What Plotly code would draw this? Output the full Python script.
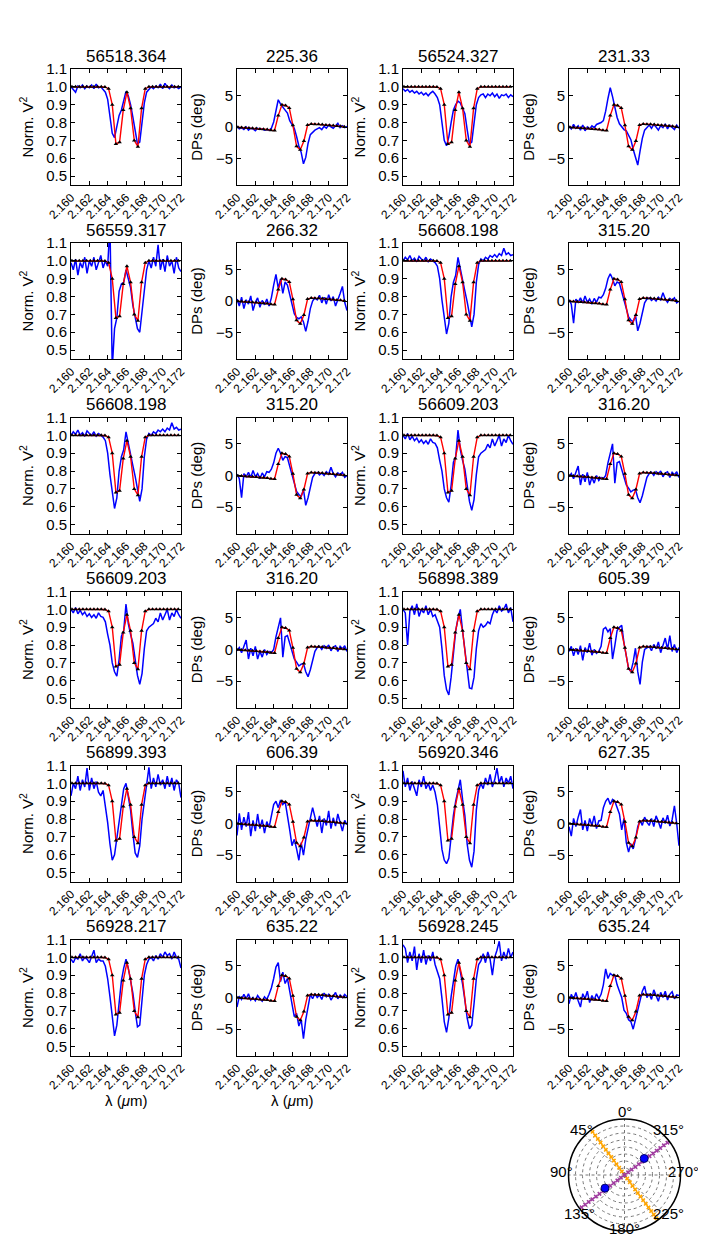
import plotly.graph_objects as go

# ---------------- data ----------------
WL = [2.16000, 2.16025, 2.16050, 2.16075, 2.16100, 2.16125, 2.16150, 2.16175, 2.16200, 2.16225,
      2.16250, 2.16275, 2.16300, 2.16325, 2.16350, 2.16375, 2.16400, 2.16425, 2.16450, 2.16475,
      2.16500, 2.16525, 2.16550, 2.16575, 2.16600, 2.16625, 2.16650, 2.16675, 2.16700, 2.16725,
      2.16750, 2.16775, 2.16800, 2.16825, 2.16850, 2.16875, 2.16900, 2.16925, 2.16950, 2.16975,
      2.17000, 2.17025, 2.17050, 2.17075, 2.17100, 2.17125, 2.17150, 2.17175, 2.17200]

MODEL_WL = [2.1601, 2.1605, 2.1609, 2.1613, 2.1617, 2.1621, 2.1625, 2.1629, 2.1633, 2.1637,
            2.1641, 2.1645, 2.1649, 2.1653, 2.1657, 2.1661, 2.1665, 2.1669, 2.1673, 2.1677,
            2.1681, 2.1685, 2.1689, 2.1693, 2.1697, 2.1701, 2.1705, 2.1709, 2.1713, 2.1717]
MODEL_V2 = [1.0, 1.0, 1.0, 1.0, 1.0, 1.0, 1.0, 1.0, 1.0, 0.999,
            0.99, 0.90, 0.68, 0.69, 0.87, 0.97, 0.88, 0.70, 0.665, 0.88,
            0.99, 1.0, 1.0, 1.0, 1.0, 1.0, 1.0, 1.0, 1.0, 1.0]
MODEL_DP = [-0.05, -0.08, -0.12, -0.15, -0.2, -0.25, -0.3, -0.35, -0.4, -0.5,
            -0.55, 1.8, 3.5, 3.4, 3.0, 0.26, -3.05, -3.6, -2.2, 0.3,
            0.47, 0.45, 0.42, 0.38, 0.33, 0.28, 0.22, 0.16, 0.1, 0.05]

V2_A = [1.00, 0.985, 0.97, 1.005, 0.995, 1.01, 0.99, 1.005, 0.995, 1.01, 0.99, 1.015, 0.995, 1.0, 0.985, 0.97,
        0.93, 0.84, 0.74, 0.715, 0.77, 0.84, 0.87, 0.92, 0.975, 0.95, 0.90, 0.83, 0.75, 0.68, 0.69, 0.80,
        0.91, 0.97, 0.985, 1.0, 0.99, 1.005, 0.995, 1.015, 0.99, 1.02, 1.0, 0.99, 1.01, 0.995, 1.0, 0.99, 1.0]
DP_A = [0.1, -0.3, -0.1, -0.4, 0.0, -0.5, -0.2, -0.3, -0.6, -0.2, -0.4, -0.3, -0.5, -0.4, -0.5, -0.2,
        0.8, 2.8, 4.3, 3.6, 3.1, 2.8, 2.2, 1.0, 0.3, -0.2, -1.5, -3.0, -4.0, -5.8, -4.8, -2.6,
        -1.2, -0.8, -0.5, -0.3, -0.1, -0.4, 0.1, -0.2, 0.3, 0.0, -0.2, 0.2, 0.6, -0.1, 0.2, -0.1, 0.1]

V2_B = [0.99, 0.975, 0.985, 0.97, 0.98, 0.965, 0.975, 0.96, 0.97, 0.955, 0.965, 0.95, 0.965, 0.975, 0.96, 0.94,
        0.90, 0.80, 0.70, 0.67, 0.72, 0.80, 0.87, 0.90, 0.92, 0.91, 0.88, 0.85, 0.76, 0.68, 0.69, 0.80,
        0.90, 0.94, 0.955, 0.96, 0.94, 0.96, 0.95, 0.965, 0.945, 0.96, 0.935, 0.955, 0.95, 0.96, 0.94, 0.955, 0.945]
DP_B = [0.1, -0.3, 0.4, -0.2, 0.2, -0.5, 0.3, -0.6, 0.0, -0.3, 0.2, -0.1, 0.4, 0.5, 0.7, 1.0,
        2.5, 4.5, 6.2, 4.8, 3.0, 1.5, 0.5, 0.0, -0.4, -0.6, -1.2, -2.0, -3.5, -5.0, -6.0, -3.8,
        -1.8, -0.5, 0.0, 0.3, -0.2, 0.4, 0.0, -0.5, 0.2, -0.1, 0.5, -0.3, 0.3, 0.0, -0.4, 0.3, -0.2]

V2_C = [0.99, 0.95, 1.01, 0.92, 0.99, 0.96, 1.02, 0.93, 1.0, 0.97, 1.02, 0.95, 0.99, 1.03, 0.96, 1.0,
        0.97, 1.2, 0.40, 0.62, 0.68, 0.83, 0.87, 0.88, 0.95, 0.90, 0.85, 0.75, 0.68, 0.62, 0.60, 0.72,
        0.85, 0.95, 1.0, 0.96, 1.02, 0.97, 1.09, 0.95, 1.01, 0.94, 1.03, 0.97, 1.0, 0.93, 1.02, 0.96, 0.94]
DP_C = [0.3, -0.8, 0.6, -1.2, 0.2, -0.5, 0.8, -1.5, -0.2, 0.5, -1.0, 0.1, -0.6, 0.3, -0.8, 0.5,
        2.5, 4.2, 2.0, 3.5, 1.2, 3.0, 2.5, 0.8, -0.5, -2.0, -2.6, -2.8, -2.5, -3.3, -4.8, -3.2,
        -1.2, 0.0, 0.5, 0.2, 0.9, -0.3, 0.6, -0.5, 1.0, 0.0, 0.7, -0.8, 0.4, 1.2, 2.3, -0.2, -1.5]

V2_D = [1.0, 1.02, 1.005, 1.03, 1.0, 1.015, 0.995, 1.025, 1.01, 1.0, 1.02, 0.995, 1.01, 1.0, 0.99, 0.97,
        0.90, 0.78, 0.68, 0.59, 0.65, 0.80, 0.88, 0.92, 1.02, 0.95, 0.88, 0.83, 0.77, 0.69, 0.63, 0.70,
        0.88, 0.98, 1.01, 1.0, 1.02, 1.01, 1.03, 1.02, 1.035, 1.02, 1.04, 1.03, 1.07, 1.035, 1.045, 1.03, 1.035]
DP_D = [0.2, -0.5, -3.5, 0.3, -0.2, 0.5, -0.3, 0.8, -0.2, 0.3, -0.5, 0.4, -0.2, 0.6, 0.5, 1.0,
        2.0, 3.5, 4.3, 3.5, 2.4, 3.0, 2.8, 1.5, 0.0, -1.5, -2.5, -3.0, -3.3, -2.2, -4.7, -3.5,
        -1.8, -0.3, 0.3, 0.5, 0.1, 0.4, 0.0, 0.6, 0.2, 1.3, 0.3, -0.2, 0.4, 0.1, 0.5, -0.3, 0.0]

V2_E = [1.0, 0.98, 1.01, 0.975, 0.995, 0.97, 0.985, 0.96, 0.975, 0.955, 0.97, 0.95, 0.98, 0.96, 0.955, 0.93,
        0.86, 0.80, 0.70, 0.65, 0.625, 0.72, 0.85, 0.88, 1.03, 0.92, 0.86, 0.81, 0.72, 0.63, 0.58, 0.64,
        0.78, 0.88, 0.90, 0.91, 0.92, 0.95, 0.93, 0.98, 0.94, 0.97, 1.0, 0.94, 0.98, 0.96, 1.0, 0.97, 0.95]
DP_E = [-0.2, 0.3, -0.5, 0.4, 1.5, -1.5, 0.2, -1.0, 0.5, -1.5, -0.3, -1.2, 0.0, -0.8, -0.3, -0.5,
        0.0, 2.0, 3.5, 5.0, -1.2, 2.0, 2.2, 1.0, -0.5, -1.5, -2.0, -2.6, -2.3, -2.2, -3.5, -4.3,
        -3.2, -1.5, -0.3, 0.3, 0.5, 0.0, 0.6, 0.2, 0.7, -0.2, 0.4, 0.6, -0.3, 0.5, 0.1, 0.6, -0.3]

V2_F = [1.0, 0.98, 0.80, 0.99, 1.02, 0.97, 1.03, 0.96, 1.0, 0.98, 1.02, 0.97, 1.0, 0.96, 0.97, 0.93,
        0.90, 0.78, 0.63, 0.55, 0.52, 0.62, 0.75, 0.88, 0.95, 1.0, 0.88, 0.78, 0.66, 0.56, 0.555, 0.62,
        0.78, 0.88, 0.92, 0.90, 0.91, 0.93, 0.92, 0.97, 1.0, 0.98, 1.02, 0.99, 1.0, 1.03, 0.98, 1.01, 0.93]
DP_F = [-0.3, 0.5, -1.0, 0.2, -0.8, 0.6, -1.7, 0.3, -0.5, 1.0, -0.9, 0.0, -0.6, -0.3, 0.5, 3.2,
        3.5, 2.8, 3.3, -1.5, 0.6, 3.0, 3.5, 3.8, 1.0, -1.0, -3.0, -3.5, -2.0, 0.2, -3.5, -5.5,
        -2.0, 0.0, 0.3, 0.5, -0.2, 0.8, 0.1, 1.2, -0.5, 0.6, 1.8, 0.0, 2.2, -0.3, 0.8, -0.5, 0.3]

V2_G = [0.93, 1.0, 0.97, 1.04, 0.96, 1.02, 0.98, 1.085, 0.96, 1.03, 0.97, 1.01, 0.95, 0.93, 0.96, 0.88,
        0.78, 0.66, 0.57, 0.60, 0.70, 0.80, 0.90, 0.97, 1.0, 0.93, 0.85, 0.72, 0.61, 0.585, 0.65, 0.80,
        0.90, 1.0, 1.09, 0.97, 1.03, 0.98, 1.05, 0.99, 1.02, 0.97, 1.04, 0.98, 1.03, 0.96, 1.02, 1.0, 0.92]
DP_G = [-1.9, 1.6, -1.0, 1.0, -0.5, 1.8, -2.0, 0.5, -1.2, 1.5, -0.8, 0.6, -1.5, 0.3, -0.6, 1.0,
        3.0, 3.5, 2.5, 3.7, 3.0, 3.5, 1.5, -1.0, -3.5, -2.5, -4.0, -5.8, -3.0, -5.0, -2.5, -1.0,
        1.0, 2.5, 1.0, -0.5, 1.2, -1.5, 0.8, -0.3, 2.0, -0.8, 0.9, -0.4, 1.5, 0.2, -1.2, 0.5, -0.2]

V2_H = [1.07, 0.98, 1.03, 0.96, 1.01, 0.97, 0.93, 1.02, 0.98, 1.04, 0.97, 1.0, 0.96, 0.99, 0.95, 0.88,
        0.75, 0.63, 0.57, 0.55, 0.58, 0.70, 0.82, 0.90, 0.96, 1.02, 0.91, 0.82, 0.66, 0.57, 0.53, 0.62,
        0.85, 0.96, 1.0, 0.97, 1.03, 0.99, 1.05, 0.98, 1.02, 1.085, 1.0, 1.04, 0.98, 1.03, 1.0, 1.04, 0.97]
DP_H = [-0.5, -2.0, 0.8, -0.5, 1.0, 2.2, -1.0, 0.5, -1.2, 0.8, -0.3, 1.2, -0.8, 0.4, 0.5, 2.5,
        3.5, 4.0, 3.0, 3.8, 3.5, 2.5, 1.5, -1.0, 0.8, -3.0, -4.5, -3.2, -4.0, -2.5, -0.5, 0.5,
        -0.3, 1.0, 0.2, -0.3, 0.8, -0.5, 1.2, 0.3, -0.8, 0.9, 0.0, 1.3, -0.4, 0.6, 2.8, 0.0, -3.5]

V2_I = [0.99, 0.97, 1.0, 0.99, 1.02, 0.98, 1.0, 0.99, 0.97, 1.0, 1.04, 0.97, 0.99, 0.98, 0.98, 0.95,
        0.88, 0.78, 0.66, 0.56, 0.62, 0.75, 0.87, 0.94, 0.99, 0.94, 0.88, 0.80, 0.70, 0.61, 0.62, 0.76,
        0.90, 0.96, 0.99, 1.0, 0.98, 1.01, 0.99, 1.02, 1.0, 1.03, 1.01, 1.02, 0.99, 1.03, 1.0, 0.99, 0.94]
DP_I = [-1.5, 0.2, -0.3, 0.5, -0.2, 0.6, -0.4, 0.0, -0.5, 0.3, -0.2, -0.6, 0.1, -0.3, 0.5, 1.5,
        3.0, 4.8, 5.5, 2.5, 4.0, 2.2, 3.0, 1.0, -1.0, -3.0, -2.5, -4.5, -3.5, -6.5, -3.5, -1.5,
        0.5, -0.2, 0.6, 0.0, 0.4, -0.3, 0.7, 0.1, 0.5, -0.4, 0.3, 0.8, -0.2, 0.4, 0.0, 0.5, 0.1]

V2_J = [1.07, 1.05, 0.97, 1.03, 0.98, 1.06, 0.93, 1.02, 0.97, 1.04, 0.96, 1.01, 0.98, 1.03, 0.96, 0.92,
        0.88, 0.77, 0.64, 0.58, 0.66, 0.78, 0.88, 0.95, 0.99, 0.93, 0.85, 0.76, 0.66, 0.60, 0.62, 0.74,
        0.88, 0.96, 0.98, 1.02, 0.97, 1.03, 0.99, 0.90, 1.0, 1.04, 1.09, 0.98, 1.03, 0.99, 1.05, 1.0, 1.03]
DP_J = [-1.0, 0.5, -0.3, 0.8, -0.5, -1.5, 0.6, -0.2, 1.0, -0.8, 0.3, -0.4, 0.6, -0.2, 0.5, 2.0,
        4.5, 3.0, 3.8, 3.5, 3.5, 2.0, 1.0, 0.0, -2.0, -2.5, -3.5, -3.8, -5.0, -3.5, -2.0, -1.0,
        1.0, 1.8, 0.0, 0.6, -0.3, 1.2, 0.2, -0.6, 0.8, 0.0, 1.0, -0.4, 0.5, 0.9, -0.2, 0.4, 0.3]

# panel grid: each row holds (title, data) for 4 columns: V2, DP, V2, DP
ROWS = [
    [("56518.364", V2_A), ("225.36", DP_A), ("56524.327", V2_B), ("231.33", DP_B)],
    [("56559.317", V2_C), ("266.32", DP_C), ("56608.198", V2_D), ("315.20", DP_D)],
    [("56608.198", V2_D), ("315.20", DP_D), ("56609.203", V2_E), ("316.20", DP_E)],
    [("56609.203", V2_E), ("316.20", DP_E), ("56898.389", V2_F), ("605.39", DP_F)],
    [("56899.393", V2_G), ("606.39", DP_G), ("56920.346", V2_H), ("627.35", DP_H)],
    [("56928.217", V2_I), ("635.22", DP_I), ("56928.245", V2_J), ("635.24", DP_J)],
]

X_TICKS = [2.160, 2.162, 2.164, 2.166, 2.168, 2.170, 2.172]
X_TICKTEXT = ["2.160", "2.162", "2.164", "2.166", "2.168", "2.170", "2.172"]
V2_TICKS = [0.5, 0.6, 0.7, 0.8, 0.9, 1.0, 1.1]
V2_TICKTEXT = ["0.5", "0.6", "0.7", "0.8", "0.9", "1.0", "1.1"]
DP_TICKS = [-5, 0, 5]
DP_TICKTEXT = ["\u22125", "0", "5"]

# polar inset
R_ALONG = [0.0, 0.08, 0.16, 0.24, 0.32, 0.40, 0.48, 0.56, 0.64, 0.72, 0.80, 0.88, 0.96]
ORANGE_PA = [36.5, 216.5]
PURPLE_PA = [307.0, 127.0]
DOT_R = [0.46, 0.42]
DOT_THETA = [310.0, 124.0]
ANG_TICKS = [0, 45, 90, 135, 180, 225, 270, 315]
ANG_TEXT = ["0°", "45°", "90°", "135°", "180°", "225°", "270°", "315°"]

# ---------------- layout geometry ----------------
W, H = 706, 1235
COL_L = [63, 229, 395, 561]
ROW_T = [61, 235, 409.5, 583.5, 757.5, 931.5]
PW, PH = 110, 116
FONT = "Liberation Sans, Arial, sans-serif"

fig = go.Figure()
layout = dict(template="none", width=W, height=H, margin=dict(l=0, r=0, t=0, b=0, autoexpand=False),
              paper_bgcolor="white", plot_bgcolor="white", showlegend=False,
              font=dict(family=FONT, color="black"))
annotations = []

n = 0
for r, row in enumerate(ROW_T):
    for c in range(4):
        n += 1
        title, data = ROWS[r][c]
        is_v2 = (c % 2 == 0)
        xs = "x" if n == 1 else f"x{n}"
        ys = "y" if n == 1 else f"y{n}"
        fig.add_trace(go.Scatter(x=WL, y=data, xaxis=xs, yaxis=ys, mode="lines",
                                 line=dict(color="#0000ff", width=1.5)))
        fig.add_trace(go.Scatter(x=MODEL_WL, y=MODEL_V2 if is_v2 else MODEL_DP,
                                 xaxis=xs, yaxis=ys, mode="lines+markers",
                                 line=dict(color="#ff0000", width=1.4),
                                 marker=dict(symbol="triangle-up", size=4, color="black")))
        x0 = COL_L[c] / W
        x1 = (COL_L[c] + PW) / W
        y1 = 1 - row / H
        y0 = 1 - (row + PH) / H
        xk = "xaxis" if n == 1 else f"xaxis{n}"
        yk = "yaxis" if n == 1 else f"yaxis{n}"
        layout[xk] = dict(domain=[x0, x1], anchor=ys, range=[2.160, 2.172], automargin=False,
                          tickmode="array", tickvals=X_TICKS, ticktext=X_TICKTEXT,
                          tickangle=-45, tickfont=dict(size=12, family=FONT, color="black"),
                          ticks="inside", ticklen=4, tickcolor="black",
                          showline=True, linecolor="black", linewidth=1, mirror="allticks",
                          showgrid=False, zeroline=False)
        yax = dict(domain=[y0, y1], anchor=xs, automargin=False,
                   tickfont=dict(size=15, family=FONT, color="black"),
                   ticks="inside", ticklen=4, tickcolor="black",
                   showline=True, linecolor="black", linewidth=1, mirror="allticks",
                   showgrid=False, zeroline=False, tickmode="array")
        if is_v2:
            yax.update(range=[0.45, 1.1], tickvals=V2_TICKS, ticktext=V2_TICKTEXT,
                       title=dict(text="Norm. V<sup>2</sup>", font=dict(size=15, family=FONT), standoff=8))
        else:
            yax.update(range=[-9.15, 9.15], tickvals=DP_TICKS, ticktext=DP_TICKTEXT,
                       title=dict(text="DPs (deg)", font=dict(size=15, family=FONT), standoff=9))
        layout[yk] = yax
        annotations.append(dict(text=title, x=(x0 + x1) / 2, y=y1 + 1.5 / H,
                                xref="paper", yref="paper", xanchor="center", yanchor="bottom",
                                showarrow=False, font=dict(size=17, family=FONT)))

# bottom axis labels
for c in range(2):
    annotations.append(dict(text="λ (<i>μ</i>m)", x=(COL_L[c] + PW / 2) / W, y=1 - 1092 / H,
                            xref="paper", yref="paper", xanchor="center", yanchor="middle",
                            showarrow=False, font=dict(size=15, family=FONT)))

# polar inset
PCX, PCY, PR = 616.5, 1167.0, 56
for pa, col in ((ORANGE_PA, "#ffa500"), (PURPLE_PA, "#a03ca0")):
    for th in pa:
        fig.add_trace(go.Scatterpolar(r=R_ALONG, theta=[th] * len(R_ALONG), mode="lines+markers",
                                      line=dict(color=col, width=1, dash="dot"),
                                      marker=dict(symbol="x", size=4, color=col),
                                      subplot="polar"))
fig.add_trace(go.Scatterpolar(r=DOT_R, theta=DOT_THETA, mode="markers",
                              marker=dict(size=8, color="#0000ff", line=dict(color="#000060", width=1)),
                              subplot="polar"))

layout["polar"] = dict(
    domain=dict(x=[(PCX - PR) / W, (PCX + PR) / W], y=[1 - (PCY + PR) / H, 1 - (PCY - PR) / H]),
    bgcolor="white",
    angularaxis=dict(rotation=90, direction="counterclockwise", tickmode="array",
                     tickvals=ANG_TICKS, ticktext=ANG_TEXT, ticks="", showticklabels=False,
                     showline=True, linecolor="black", linewidth=1.5,
                     showgrid=True, gridcolor="#777777", griddash="dot", gridwidth=1),
    radialaxis=dict(range=[0, 1], showticklabels=False, ticks="", showline=False,
                    tickmode="array", tickvals=[0.125, 0.25, 0.375, 0.5, 0.625, 0.75, 0.875],
                    showgrid=True, gridcolor="#777777", griddash="dot", gridwidth=1),
)

# angular labels placed like matplotlib's (centres in pixels)
ANG_LABEL_POS = [(616.7, 1103.5), (573.3, 1121.7), (553.3, 1163.3), (571.7, 1205.5),
                 (616.7, 1220.5), (660.0, 1205.0), (675.0, 1163.3), (660.0, 1121.7)]
for txt, (px, py) in zip(ANG_TEXT, ANG_LABEL_POS):
    annotations.append(dict(text=txt, x=px / W, y=1 - py / H, xref="paper", yref="paper",
                            xanchor="center", yanchor="middle", showarrow=False,
                            font=dict(size=15, family=FONT)))

layout["annotations"] = annotations
fig.update_layout(**layout)
fig.write_html("out.html")
